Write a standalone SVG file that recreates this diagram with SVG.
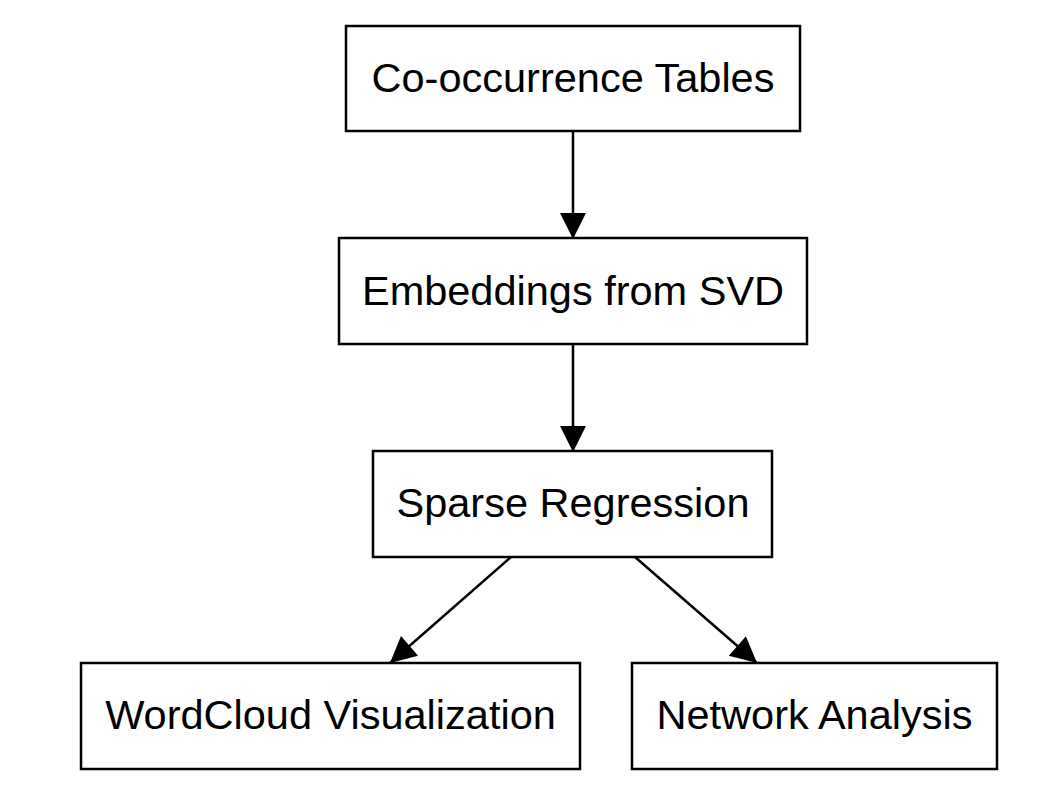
<svg xmlns="http://www.w3.org/2000/svg" width="1058" height="802" viewBox="0 0 1058 802">
<style>
.node rect{fill:#fff;stroke:#000;stroke-width:2.5}
.node text{font-family:"Liberation Sans",Arial,sans-serif;font-size:41.5px;fill:#000;text-anchor:middle}
.edge{stroke:#000;stroke-width:2.5;fill:none;marker-end:url(#ah)}
</style>
<defs>
<marker id="ah" viewBox="0 0 10 10" refX="10" refY="5" markerWidth="33" markerHeight="26" markerUnits="userSpaceOnUse" orient="auto">
<path d="M0,0 L10,5 L0,10 z" fill="#000"/>
</marker>
</defs>
<rect width="1058" height="802" fill="#fff"/>
<g id="connectors">
<line class="edge" x1="573" y1="132" x2="573" y2="239"/>
<line class="edge" x1="573" y1="344" x2="573" y2="452"/>
<line class="edge" x1="511" y1="557" x2="390" y2="663"/>
<line class="edge" x1="635" y1="557" x2="757" y2="663"/>
</g>
<g id="node-cooccurrence" class="node">
<rect x="346" y="26" width="454" height="105"/>
<text x="573" y="92">Co-occurrence Tables</text>
</g>
<g id="node-embeddings" class="node">
<rect x="339" y="238" width="468" height="106"/>
<text x="573" y="305">Embeddings from SVD</text>
</g>
<g id="node-sparse" class="node">
<rect x="373" y="451" width="399" height="106"/>
<text x="573" y="517">Sparse Regression</text>
</g>
<g id="node-wordcloud" class="node">
<rect x="81" y="663" width="499" height="106"/>
<text x="330.5" y="729">WordCloud Visualization</text>
</g>
<g id="node-network" class="node">
<rect x="632" y="663" width="365" height="106"/>
<text x="814.5" y="729">Network Analysis</text>
</g>
</svg>
